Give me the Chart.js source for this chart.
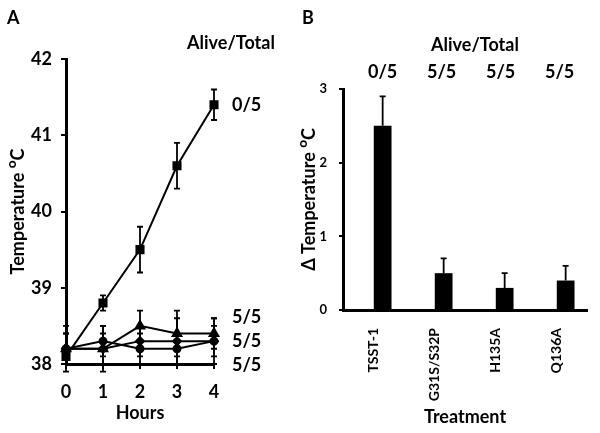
<!DOCTYPE html>
<html><head><meta charset="utf-8">
<script src="https://cdn.jsdelivr.net/npm/chart.js@4.4.0/dist/chart.umd.min.js"></script>
<style>
html,body{margin:0;padding:0;background:#fff;}
#wrap{position:relative;width:600px;height:433px;background:#fff;}
canvas{position:absolute;top:0;}
#cA{left:0;} #cB{left:300px;}
</style></head><body>
<div id="wrap"><canvas id="cA" width="300" height="433"></canvas><canvas id="cB" width="300" height="433"></canvas></div>
<script>
// ---- Panel A data ----
const hours = [0, 1, 2, 3, 4];
const tsst1Temp = [38.1, 38.8, 39.5, 40.6, 41.4];
const tsst1Err  = [0.1, 0.1, 0.3, 0.3, 0.2];
const triTemp   = [38.2, 38.2, 38.5, 38.4, 38.4];
const triErr    = [0.3, 0.3, 0.2, 0.3, 0.2];
const circTemp  = [38.2, 38.3, 38.2, 38.2, 38.3];
const circErr   = [0.2, 0.2, 0.2, 0.2, 0.2];
const diaTemp   = [38.2, 38.2, 38.3, 38.3, 38.3];
const diaErr    = [0.2, 0.2, 0.2, 0.3, 0.3];
const aliveA    = ['0/5', '5/5', '5/5', '5/5'];
const yTicksA   = [38, 39, 40, 41, 42];

// ---- Panel B data ----
const treatments = ['TSST-1', 'G31S/S32P', 'H135A', 'Q136A'];
const deltaTemp  = [2.5, 0.5, 0.3, 0.4];
const deltaErr   = [0.4, 0.2, 0.2, 0.2];
const aliveB     = ['0/5', '5/5', '5/5', '5/5'];

const FONT = 'Lato';
const bold = (size, lh) => ({family: FONT, weight: 'bold', size: size, lineHeight: lh || 1.2});

const errorBars = {
  id: 'errorBars',
  afterDatasetsDraw(chart) {
    const ctx = chart.ctx, ys = chart.scales.y;
    chart.data.datasets.forEach((ds, i) => {
      if (!ds.errors) return;
      const meta = chart.getDatasetMeta(i);
      meta.data.forEach((el, j) => {
        const err = ds.errors[j];
        const raw = ds.data[j];
        const val = (raw !== null && typeof raw === 'object') ? raw.y : raw;
        if (err == null || val == null) return;
        const x = el.x;
        const top = ys.getPixelForValue(val + err);
        const bot = ds.errorMode === 'up' ? ys.getPixelForValue(val) : ys.getPixelForValue(val - err);
        ctx.save();
        ctx.strokeStyle = '#000';
        ctx.lineWidth = 1.8;
        ctx.beginPath();
        ctx.moveTo(x, top); ctx.lineTo(x, bot);
        ctx.moveTo(x - 3, top); ctx.lineTo(x + 3, top);
        if (ds.errorMode !== 'up') { ctx.moveTo(x - 3, bot); ctx.lineTo(x + 3, bot); }
        ctx.stroke();
        ctx.restore();
      });
    });
  }
};

const textA = {
  id: 'textA',
  afterDraw(chart) {
    const ctx = chart.ctx, ys = chart.scales.y;
    ctx.save();
    ctx.fillStyle = '#000';
    ctx.textBaseline = 'middle';
    ctx.font = 'bold 18px ' + FONT;
    ctx.textAlign = 'left';
    ctx.fillText('A', 7, 18);
    ctx.textAlign = 'center';
    ctx.fillText('Alive/Total', 231, 43);
    ctx.textAlign = 'left';
    const lx = chart.chartArea.right + 18;
    ctx.fillText(aliveA[0], lx, ys.getPixelForValue(tsst1Temp[tsst1Temp.length - 1]));
    const ys55 = [317, 341, 365];
    for (let k = 1; k < aliveA.length; k++) ctx.fillText(aliveA[k], lx, ys55[k - 1]);
    ctx.restore();
  }
};

const textB = {
  id: 'textB',
  afterDraw(chart) {
    const ctx = chart.ctx;
    ctx.save();
    ctx.fillStyle = '#000';
    ctx.textBaseline = 'middle';
    ctx.font = 'bold 18px ' + FONT;
    ctx.textAlign = 'left';
    ctx.fillText('B', 2, 18);
    ctx.textAlign = 'center';
    ctx.fillText('Alive/Total', 175, 45);
    const meta = chart.getDatasetMeta(1);
    meta.data.forEach((el, j) => ctx.fillText(aliveB[j], el.x - 2 * j, 72));
    ctx.restore();
  }
};

const axisCommon = (tl) => ({
  grid: {display: true, drawOnChartArea: false, drawTicks: true, tickLength: tl, color: '#000', lineWidth: 2},
  border: {display: true, color: '#000', width: 3}
});

new Chart(document.getElementById('cA'), {
  type: 'line',
  data: {
    datasets: [
      {label: 'TSST-1', data: hours.map((h, i) => ({x: h, y: tsst1Temp[i]})), errors: tsst1Err, pointStyle: 'rect', pointRadius: 5},
      {label: 'Mutant 1', data: hours.map((h, i) => ({x: h, y: triTemp[i]})), errors: triErr, pointStyle: 'triangle', pointRadius: 5},
      {label: 'Mutant 2', data: hours.map((h, i) => ({x: h, y: circTemp[i]})), errors: circErr, pointStyle: 'circle', pointRadius: 3.5},
      {label: 'Mutant 3', data: hours.map((h, i) => ({x: h, y: diaTemp[i]})), errors: diaErr, pointStyle: 'rectRot', pointRadius: 4}
    ].map(d => Object.assign(d, {borderColor: '#000', backgroundColor: '#000', pointBackgroundColor: '#000', pointBorderColor: '#000', borderWidth: 2, tension: 0, clip: false}))
  },
  options: {
    responsive: false, animation: false,
    layout: {padding: {left: 0, top: 59, right: 86, bottom: 0}},
    plugins: {legend: {display: false}, tooltip: {enabled: false}},
    scales: {
      x: Object.assign(axisCommon(5), {
        type: 'linear', min: 0, max: 4,
        ticks: {stepSize: 1, color: '#000', font: bold(18), padding: 12},
        title: {display: true, text: 'Hours', color: '#000', font: bold(18, 1), padding: {top: 0, bottom: 11}},
        afterFit(s) { s.height = 69; }
      }),
      y: Object.assign(axisCommon(5), {
        min: yTicksA[0], max: yTicksA[yTicksA.length - 1],
        ticks: {stepSize: 1, color: '#000', font: bold(18), padding: 9},
        title: {display: true, text: 'Temperature ᴼC', color: '#000', font: bold(18, 1), padding: {top: 9, bottom: 0}},
        afterFit(s) { s.width = 66; }
      })
    }
  },
  plugins: [errorBars, textA]
});

new Chart(document.getElementById('cB'), {
  type: 'bar',
  data: {
    labels: treatments,
    datasets: [
      {label: '', data: treatments.map(() => null)},
      {label: 'Δ Temperature', data: deltaTemp, errors: deltaErr, errorMode: 'up', backgroundColor: '#000', borderWidth: 0}
    ]
  },
  options: {
    responsive: false, animation: false,
    categoryPercentage: 0.6, barPercentage: 0.97,
    layout: {padding: {left: 0, top: 89, right: 13, bottom: 0}},
    plugins: {legend: {display: false}, tooltip: {enabled: false}},
    scales: {
      x: {
        grid: {display: false},
        border: {display: true, color: '#000', width: 3},
        ticks: {color: '#000', font: bold(14), minRotation: 90, maxRotation: 90, padding: 10, autoSkip: false},
        title: {display: true, text: 'Treatment', color: '#000', font: bold(18, 1), padding: {top: 0, bottom: 7}},
        afterFit(s) { s.height = 123; }
      },
      y: Object.assign(axisCommon(4), {
        min: 0, max: 3,
        ticks: {stepSize: 1, color: '#000', font: bold(13), padding: 12},
        title: {display: true, text: 'Δ Temperature ᴼC', color: '#000', font: bold(18, 1), padding: {top: 0, bottom: 0}},
        afterFit(s) { s.width = 43; }
      })
    }
  },
  plugins: [errorBars, textB]
});
</script>
</body></html>
